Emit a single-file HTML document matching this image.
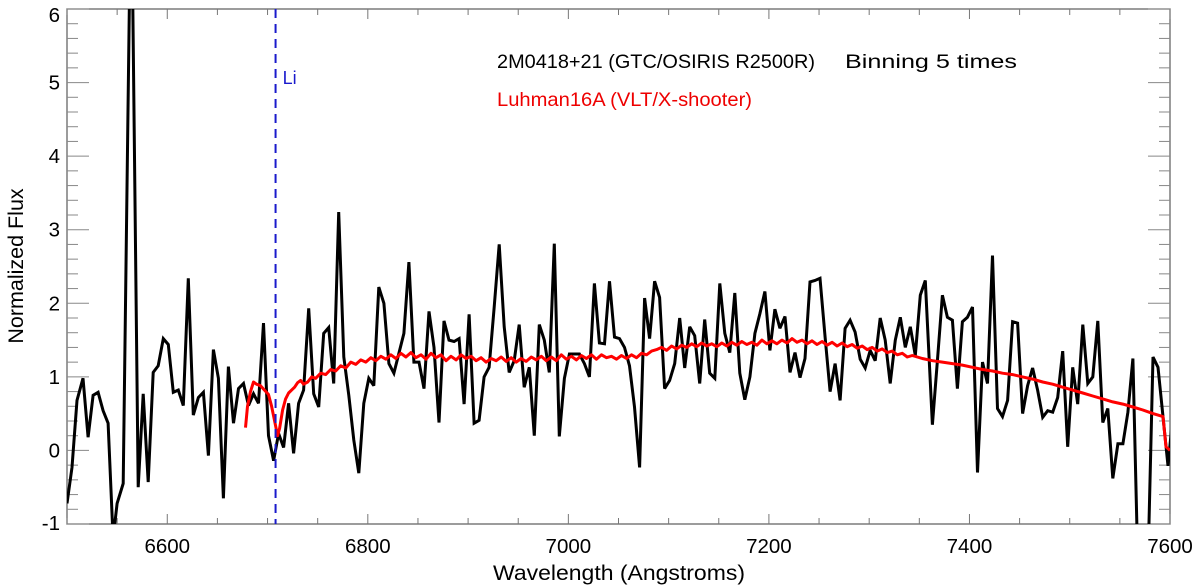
<!DOCTYPE html>
<html><head><meta charset="utf-8"><style>
html,body{margin:0;padding:0;background:#fff;}
svg{display:block;font-family:"Liberation Sans",Arial,sans-serif;}
</style></head><body>
<svg id="chart" width="1200" height="586" viewBox="0 0 1200 586" xmlns="http://www.w3.org/2000/svg">
<defs><clipPath id="plotclip"><rect x="67" y="9" width="1103" height="515"/></clipPath></defs>
<g id="axes"></g>
<g id="series" clip-path="url(#plotclip)"></g>
<line id="liline" stroke="#1a1acc" stroke-width="2" stroke-dasharray="9,6"/>
<text id="lilabel" font-size="18" fill="#1a1acc">Li</text>
<text x="497" y="68" font-size="19.5" fill="#000" textLength="318" lengthAdjust="spacingAndGlyphs">2M0418+21 (GTC/OSIRIS R2500R)</text>
<text x="845" y="68" font-size="19.5" fill="#000" textLength="172" lengthAdjust="spacingAndGlyphs">Binning 5 times</text>
<text x="497" y="106" font-size="19.5" fill="#ee0000" textLength="255" lengthAdjust="spacingAndGlyphs">Luhman16A (VLT/X-shooter)</text>
<text x="619" y="580" font-size="21.5" text-anchor="middle" textLength="252" lengthAdjust="spacingAndGlyphs">Wavelength (Angstroms)</text>
<text transform="translate(23,266) rotate(-90)" font-size="21.5" text-anchor="middle">Normalized Flux</text>
</svg>
<script>
const xTicks=[6600,6800,7000,7200,7400,7600];
const yTicks=[-1,0,1,2,3,4,5,6];
const liLambda=6708;
const blackLam=[6500,6505,6510,6516,6521,6526,6531,6536,6541,6546,6550,6556,6564,6571,6576,6581,6586,6591,6596,6601,6606,6611,6616,6621,6626,6631,6636,6641,6646,6651,6656,6661,6666,6671,6676,6681,6686,6691,6696,6701,6706,6711,6716,6721,6726,6731,6736,6741,6746,6751,6756,6761,6766,6771,6776,6781,6786,6791,6796,6801,6806,6811,6816,6821,6826,6831,6836,6841,6846,6851,6856,6861,6866,6871,6876,6881,6886,6891,6896,6901,6906,6911,6916,6921,6926,6931,6936,6941,6946,6951,6956,6961,6966,6971,6976,6981,6986,6991,6996,7001,7006,7011,7016,7021,7026,7031,7036,7041,7046,7051,7056,7061,7066,7071,7076,7081,7086,7091,7096,7101,7106,7111,7116,7121,7126,7131,7136,7141,7146,7151,7156,7161,7166,7171,7176,7181,7186,7191,7196,7201,7206,7211,7216,7221,7226,7231,7236,7241,7246,7251,7256,7261,7266,7271,7276,7281,7286,7291,7296,7301,7306,7311,7316,7321,7326,7331,7336,7341,7346,7351,7356,7363,7368,7373,7378,7383,7388,7393,7398,7403,7408,7413,7418,7423,7428,7433,7438,7443,7448,7453,7458,7463,7468,7473,7478,7483,7488,7493,7498,7503,7508,7513,7518,7523,7528,7533,7538,7543,7548,7553,7558,7563,7568,7578,7583,7588,7598,7603];
const blackFlux=[-0.72,-0.23,0.68,0.98,0.18,0.75,0.79,0.54,0.37,-1.2,-0.72,-0.45,8.0,-0.5,0.77,-0.43,1.06,1.15,1.52,1.44,0.79,0.82,0.61,2.34,0.48,0.72,0.79,-0.07,1.37,0.98,-0.65,1.14,0.37,0.84,0.91,0.61,0.77,0.64,1.73,0.2,-0.14,0.23,0.04,0.64,-0.04,0.64,0.82,1.93,0.77,0.59,1.59,1.67,0.91,3.24,1.27,0.75,0.14,-0.31,0.64,0.98,0.88,2.22,2.0,1.18,1.05,1.32,1.59,2.56,1.2,1.2,0.84,1.89,1.4,0.38,1.76,1.5,1.48,1.52,0.63,1.85,0.37,0.41,1.0,1.13,1.95,2.8,1.68,1.06,1.22,1.71,0.86,1.13,0.2,1.71,1.5,1.06,2.81,0.19,0.98,1.31,1.31,1.31,1.18,1.0,2.27,1.46,1.45,2.3,1.54,1.52,1.4,1.15,0.59,-0.23,2.07,1.52,2.3,2.08,0.84,0.95,1.18,1.8,1.12,1.68,1.56,0.91,1.78,1.05,0.98,2.27,1.59,1.33,2.14,1.05,0.69,1.0,1.59,1.86,2.16,1.36,1.92,1.66,1.82,1.06,1.33,0.99,1.25,2.29,2.31,2.34,1.54,0.8,1.18,0.68,1.66,1.77,1.61,1.24,1.12,1.36,1.22,1.8,1.5,0.91,1.5,1.81,1.4,1.68,1.29,2.11,2.31,0.35,1.22,2.11,1.81,1.77,0.84,1.75,1.81,1.95,-0.3,1.2,0.91,2.65,0.57,0.46,0.68,1.75,1.73,0.5,0.88,1.12,0.82,0.45,0.54,0.52,0.72,1.35,0.05,1.13,0.63,1.71,0.91,1.0,1.76,0.38,0.57,-0.38,0.09,0.09,0.52,1.25,-1.6,-1.6,1.27,1.13,-0.21,0.5];
const redLam=[6678,6680,6683,6686,6689,6693,6697,6701,6704,6707,6710,6712,6715,6718,6721,6724,6727,6730,6733,6736,6740,6744,6748,6753,6758,6763,6768,6773,6778,6783,6788,6793,6798,6803,6808,6813,6818,6823,6828,6833,6838,6843,6848,6853,6858,6863,6868,6873,6878,6883,6888,6893,6898,6903,6908,6913,6918,6923,6928,6933,6938,6943,6948,6953,6958,6963,6968,6973,6978,6983,6988,6993,6998,7003,7008,7013,7018,7023,7028,7033,7038,7043,7048,7053,7058,7063,7068,7073,7078,7083,7088,7093,7098,7103,7108,7113,7118,7123,7128,7133,7138,7143,7148,7153,7158,7163,7168,7173,7178,7183,7188,7193,7198,7203,7208,7213,7218,7223,7228,7233,7238,7243,7248,7253,7258,7263,7268,7273,7278,7283,7288,7293,7298,7303,7308,7313,7318,7323,7328,7333,7338,7343,7353,7363,7373,7383,7393,7403,7413,7423,7433,7443,7453,7463,7473,7483,7493,7503,7513,7523,7533,7543,7553,7563,7573,7583,7593,7596,7600];
const redFlux=[0.31,0.6,0.8,0.93,0.9,0.88,0.82,0.76,0.6,0.4,0.2,0.3,0.55,0.7,0.78,0.82,0.86,0.92,0.95,0.9,0.93,1.0,0.98,1.05,1.03,1.1,1.08,1.15,1.12,1.2,1.17,1.23,1.2,1.26,1.22,1.28,1.24,1.3,1.25,1.32,1.27,1.33,1.26,1.3,1.24,1.32,1.26,1.3,1.22,1.28,1.23,1.3,1.25,1.28,1.22,1.26,1.2,1.25,1.22,1.27,1.21,1.26,1.2,1.25,1.21,1.27,1.23,1.28,1.22,1.27,1.22,1.3,1.24,1.28,1.23,1.29,1.25,1.3,1.24,1.3,1.26,1.28,1.24,1.29,1.25,1.3,1.26,1.32,1.3,1.35,1.37,1.4,1.36,1.42,1.38,1.43,1.4,1.45,1.41,1.46,1.42,1.45,1.41,1.46,1.42,1.47,1.43,1.48,1.44,1.47,1.43,1.5,1.45,1.49,1.45,1.5,1.46,1.52,1.47,1.5,1.45,1.49,1.44,1.48,1.43,1.47,1.42,1.46,1.41,1.44,1.39,1.42,1.37,1.4,1.35,1.38,1.33,1.35,1.3,1.32,1.27,1.29,1.25,1.22,1.2,1.18,1.16,1.13,1.1,1.08,1.05,1.03,1.0,0.97,0.93,0.9,0.86,0.82,0.78,0.74,0.7,0.66,0.63,0.59,0.55,0.5,0.46,0.05,0.0];

const NS='http://www.w3.org/2000/svg';
const L=67,R=1170,T=9,B=524,X0=6500,X1=7600,Y0=-1,Y1=6;
function sx(v){return L+(v-X0)/(X1-X0)*(R-L);}
function sy(v){return B-(v-Y0)/(Y1-Y0)*(B-T);}
function mk(tag,attrs,parent){const e=document.createElementNS(NS,tag);for(const k in attrs)e.setAttribute(k,attrs[k]);parent.appendChild(e);return e;}
const axes=document.getElementById('axes');
const frame=mk('rect',{x:L,y:T,width:R-L,height:B-T,fill:'none',stroke:'#666','stroke-width':1.3},axes);


for(let v=X0;v<=X1;v+=50){
  const major=(v%200===0);const len=major?10:6;
  const t1=mk('line',{x1:sx(v),x2:sx(v),y1:B,y2:B-len,stroke:'#777','stroke-width':1},axes);
  
  
  const t2=mk('line',{x1:sx(v),x2:sx(v),y1:T,y2:T+len,stroke:'#777','stroke-width':1},axes);
  
  
}
xTicks.forEach(v=>{
  const t=mk('text',{x:sx(v),y:553,'font-size':20.5,'text-anchor':'middle',fill:'#000'},axes);
  t.textContent=String(v);
  
  
});
for(let i=0;i<=35;i++){
  const v=Y0+i*0.2;const major=(i%5===0);const len=major?22:11;
  const t1=mk('line',{x1:L,x2:L+len,y1:sy(v),y2:sy(v),stroke:'#888','stroke-width':1},axes);
  
  
  const t2=mk('line',{x1:R,x2:R-len,y1:sy(v),y2:sy(v),stroke:'#888','stroke-width':1},axes);
  
  
}
yTicks.forEach(v=>{
  const yy=Math.min(Math.max(sy(v)+7,22),530);
  const t=mk('text',{x:60,y:yy,'font-size':20.5,'text-anchor':'end',fill:'#000'},axes);
  t.textContent=String(v);
  
  
});
const series=document.getElementById('series');
function pts(xs,ys){return xs.map((x,i)=>sx(x).toFixed(1)+','+sy(ys[i]).toFixed(1)).join(' ');}
const bl=mk('polyline',{points:pts(blackLam,blackFlux),fill:'none',stroke:'#000','stroke-width':3,'stroke-linejoin':'miter','stroke-miterlimit':3},series);


const rl=mk('polyline',{points:pts(redLam,redFlux),fill:'none',stroke:'#ff0000','stroke-width':3,'stroke-linejoin':'round'},series);


const li=document.getElementById('liline');
li.setAttribute('x1',sx(liLambda));li.setAttribute('x2',sx(liLambda));li.setAttribute('y1',T);li.setAttribute('y2',B);
const ll=document.getElementById('lilabel');
ll.setAttribute('x',sx(liLambda)+7);ll.setAttribute('y',84);
</script>
</body></html>
